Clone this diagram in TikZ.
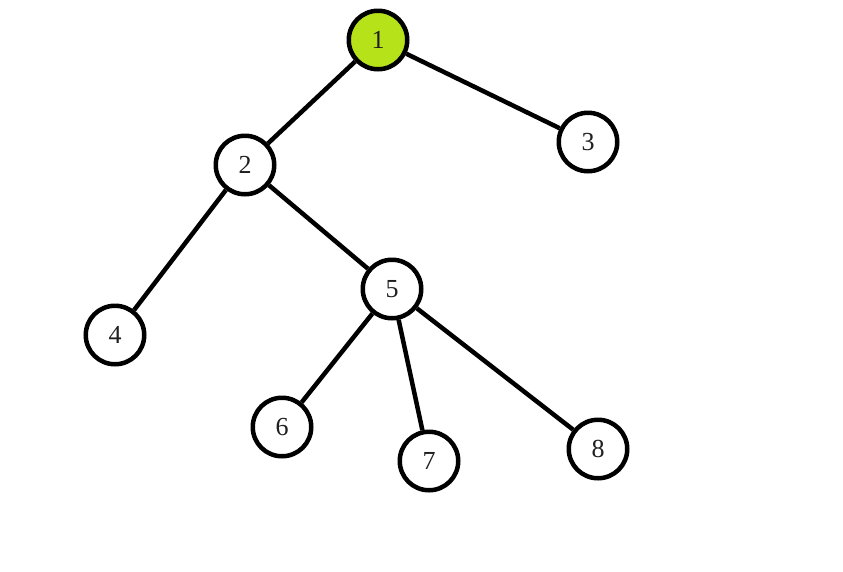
\documentclass[tikz,border=0pt]{standalone}
\usepackage{fontspec}
\setmainfont{Liberation Serif}
\definecolor{rootgreen}{RGB}{181,226,24}
\begin{document}
\begin{tikzpicture}[x=1pt,y=-1pt,
  vert/.style={circle,draw=black,line width=4.5pt,fill=white,minimum size=58.5pt,inner sep=0pt,font=\fontsize{26}{28}\selectfont,text=black!88},
  edge/.style={line width=4.5pt,draw=black}]
\useasboundingbox (0,0) rectangle (843,571);
\node[vert,fill=rootgreen] (n1) at (378,40) {1};
\node[vert] (n2) at (245,165) {2};
\node[vert] (n3) at (588,142) {3};
\node[vert] (n4) at (115,335) {4};
\node[vert] (n5) at (392,289) {5};
\node[vert] (n6) at (282,427) {6};
\node[vert] (n7) at (429,461) {7};
\node[vert] (n8) at (598,449) {8};
\draw[edge] (n1) -- (n2);
\draw[edge] (n1) -- (n3);
\draw[edge] (n2) -- (n4);
\draw[edge] (n2) -- (n5);
\draw[edge] (n5) -- (n6);
\draw[edge] (n5) -- (n7);
\draw[edge] (n5) -- (n8);
\end{tikzpicture}
\end{document}
